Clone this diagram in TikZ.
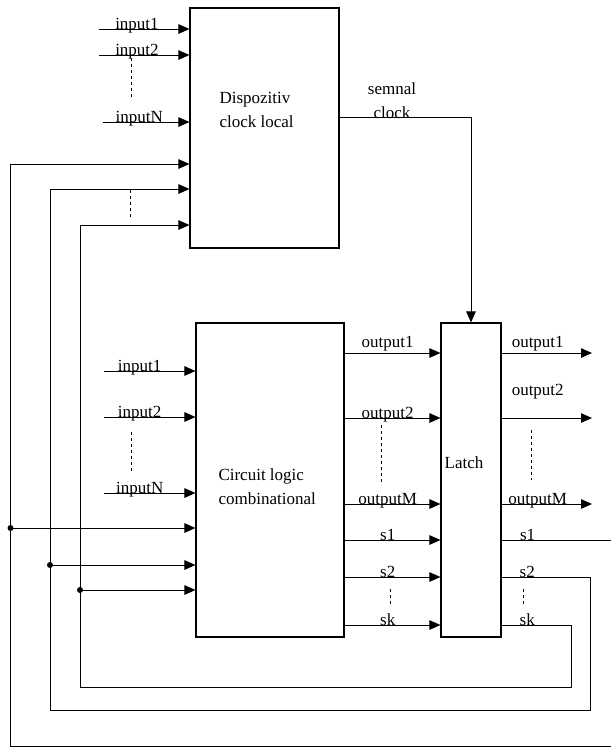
\documentclass[tikz,border=0pt]{standalone}
\usepackage{fontspec}
\setmainfont{Liberation Serif}
\usetikzlibrary{arrows.meta}

\begin{document}
\begin{tikzpicture}[x=1pt, y=-1pt, line width=1pt,
    >={Triangle[length=11pt,width=9.5pt]},
    font=\fontsize{17}{24}\selectfont,
    bloc/.style={draw, line width=1.1pt, inner sep=0pt},
    titlu/.style={anchor=north west, align=left, inner sep=0pt},
    eticheta/.style={anchor=base, inner sep=0pt},
    puncte/.style={dash pattern=on 3pt off 3pt, line width=0.8pt}]
    \useasboundingbox (0,0) rectangle (611,748);
    % Blocuri
    \node[bloc, minimum width=149pt, minimum height=240pt] (clk) at (264.5,128) {};
    \node[bloc, minimum width=148pt, minimum height=314pt] (comb) at (270,480) {};
    \node[bloc, minimum width=60pt, minimum height=314pt] (latch) at (471,480) {};
    \node[titlu] (clktxt) at (219,92) {Dispozitiv\\clock local};
    \node[titlu] (combtxt) at (218,468) {Circuit logic\\combinational};
    \node[eticheta] (latchtxt) at (464,468) {Latch};
    % Intrari dispozitiv clock
    \foreach \y/\x/\t [count=\i] in {29/99/input1, 55/99/input2, 122/103/inputN}{
        \coordinate (ci\i) at (\x,\y);
        \draw[->] (ci\i) -- (ci\i -| clk.west) node[eticheta, pos=0.42] {\t};
    }
    \draw[puncte] (131,58) -- (131,100);
    % Intrari circuit logic
    \foreach \y/\t [count=\i] in {371/input1, 417/input2, 493/inputN}{
        \coordinate (ii\i) at (104,\y);
        \draw[->] (ii\i) -- (ii\i -| comb.west) node[eticheta, pos=0.39] {\t};
    }
    \draw[puncte] (131,432) -- (131,472);
    % Semnal clock
    \draw[->] (clk.east |- 0,117) -| (latch.north);
    \node[align=center, anchor=north, inner sep=0pt] (semnal) at (392,82) {semnal\\clock};
    % Iesiri circuit -> latch
    \foreach \y/\t/\d in {353/output1/6, 418/output2/0, 504/outputM/0, 540/s1/0, 577/s2/0, 625/sk/0}
        \draw[->] (comb.east |- 0,\y) -- (latch.west |- 0,\y) node[eticheta, pos=0.45, yshift=\d pt] {\t};
    \draw[puncte] (381,425) -- (381,485);
    \draw[puncte] (390,589) -- (390,606);
    % Iesiri latch
    \foreach \y/\t/\d in {353/output1/6, 418/output2/23, 504/outputM/0}{
        \coordinate (lo\y) at (592,\y);
        \draw[->] (latch.east |- 0,\y) -- (lo\y) node[eticheta, pos=0.40, yshift=\d pt] {\t};
    }
    \draw[puncte] (531,430) -- (531,480);
    \draw[puncte] (523,589) -- (523,606);
    % Bucle de reactie
    \coordinate (d1) at (620,746.5);
    \coordinate (d2) at (590,710);
    \coordinate (d3) at (571,687);
    \coordinate (v1) at (10.5,746.5);
    \coordinate (v2) at (50,710);
    \coordinate (v3) at (80,687);
    \draw[->] (latch.east |- 0,540) -- node[eticheta, pos=0.22] {s1} (d1 |- 0,540) -- (d1) -- (v1) |- (clk.west |- 0,164);
    \draw[->] (latch.east |- 0,577) -- node[eticheta, pos=0.29] {s2} (d2 |- 0,577) -- (d2) -- (v2) |- (clk.west |- 0,189);
    \draw[->] (latch.east |- 0,625) -- node[eticheta, pos=0.37] {sk} (d3 |- 0,625) -- (d3) -- (v3) |- (clk.west |- 0,225);
    \draw[puncte] (130,190) -- (130,218);
    \draw[->] (v1 |- 0,528) -- (comb.west |- 0,528);
    \draw[->] (v2 |- 0,565) -- (comb.west |- 0,565);
    \draw[->] (v3 |- 0,590) -- (comb.west |- 0,590);
    \fill (v1 |- 0,528) circle (3pt) (v2 |- 0,565) circle (3pt) (v3 |- 0,590) circle (3pt);
\end{tikzpicture}
\end{document}
